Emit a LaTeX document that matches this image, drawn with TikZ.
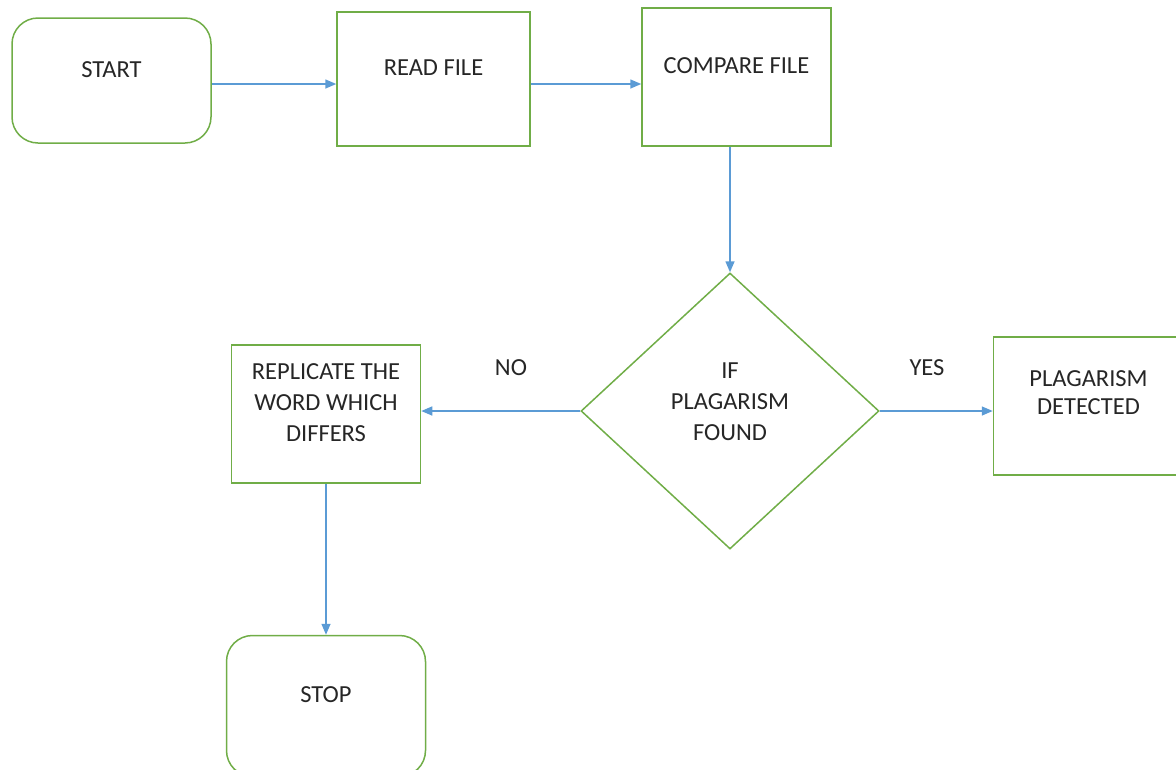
\documentclass[tikz,border=0pt]{standalone}
\usepackage{fontspec}
\setmainfont{Carlito}
\usetikzlibrary{arrows.meta, positioning, shapes.geometric}
\definecolor{flowgreen}{HTML}{70AD47}
\definecolor{flowblue}{HTML}{5B9BD5}
\tikzset{
    font=\fontsize{24.5}{31}\selectfont,
    text=black!85,
    flow_terminal/.style={
        rectangle,
        rounded corners=26pt,
        draw=flowgreen,
        line width=1.5pt,
        minimum width=199pt,
        minimum height=125pt,
        align=center,
        text depth=22pt
    },
    flow_process/.style={
        rectangle,
        draw=flowgreen,
        line width=1.5pt,
        minimum width=190pt,
        minimum height=138pt,
        align=center,
        text depth=22pt
    },
    flow_decision/.style={
        diamond,
        draw=flowgreen,
        line width=1.5pt,
        minimum width=298pt,
        minimum height=276pt,
        inner sep=2pt,
        align=center,
        text depth=18pt
    },
    flow_arrow/.style={
        -{Triangle[length=11pt, width=9pt]},
        draw=flowblue,
        line width=1.5pt
    },
    flow_label/.style={
        inner sep=0pt
    }
}

\begin{document}
\begin{tikzpicture}[x=1pt, y=-1pt]
\useasboundingbox (0,0) rectangle (1176,769);

% --- Top row ---
\node[flow_terminal] (start) at (111.5,80.5) {START};
\node[flow_process, minimum width=193pt, minimum height=134pt] (readfile) at (433.5,79) {READ FILE};
\node[flow_process, minimum width=189pt] (compare) at (736.5,77) {COMPARE FILE};

% --- Decision and branches ---
\node[flow_decision] (decision) at (730,411) {IF\\PLAGARISM\\FOUND};
\node[flow_process, minimum width=189pt, left=159pt of decision, yshift=-3pt] (replicate) {REPLICATE THE\\WORD WHICH\\DIFFERS};
\node[flow_process, right=113pt of decision, yshift=5pt, text depth=26pt,
      font=\fontsize{24.5}{28}\selectfont] (detected) {PLAGARISM\\DETECTED};
\node[flow_terminal, minimum height=141pt, below=151pt of replicate] (stop) {STOP};

% --- Branch labels ---
\node[flow_label] (no) at (511,368) {NO};
\node[flow_label] (yes) at (927,368) {YES};

% --- Edges ---
\draw[flow_arrow] ([yshift=-3.5pt]start.east) -- ([yshift=-3.5pt]start.east -| readfile.west);
\draw[flow_arrow] ([yshift=-5pt]readfile.east) -- ([yshift=-5pt]readfile.east -| compare.west);
\draw[flow_arrow] (compare.south -| decision.north) -- (decision.north);
\draw[flow_arrow] (decision.west) -- (decision.west -| replicate.east);
\draw[flow_arrow] (decision.east) -- (decision.east -| detected.west);
\draw[flow_arrow] (replicate.south) -- (replicate.south |- stop.north);

\end{tikzpicture}
\end{document}
